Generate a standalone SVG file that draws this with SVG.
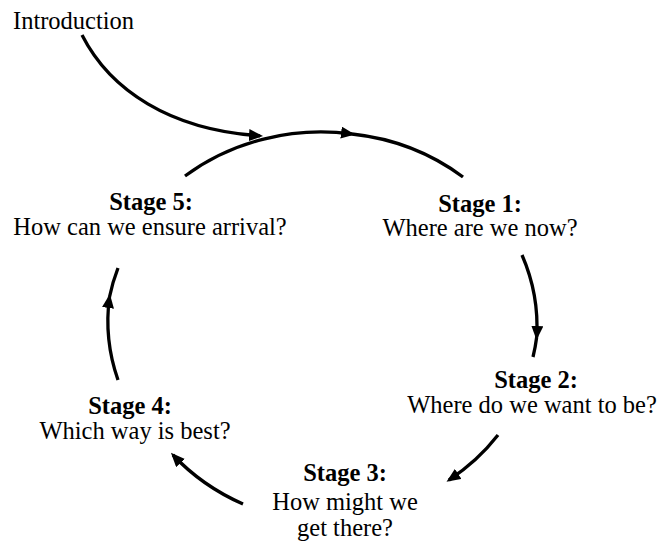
<svg xmlns="http://www.w3.org/2000/svg" width="665" height="543" viewBox="0 0 665 543">
<style>
text{font-family:"Liberation Serif","Times New Roman",serif;font-size:24.5px;fill:#000;text-anchor:middle}
.b{font-weight:bold}
.c{fill:none;stroke:#000;stroke-width:3.3;stroke-linecap:butt}
</style>
<defs>
<marker id="ah" viewBox="0 0 14 12" refX="11" refY="6" markerWidth="14" markerHeight="12" markerUnits="userSpaceOnUse" orient="auto">
<path d="M0,0 L14,6 L0,12 Z" fill="#000"/>
</marker>
</defs>
<rect width="665" height="543" fill="#fff"/>
<g id="intro">
<text x="13" y="29" style="text-anchor:start">Introduction</text>
</g>
<g id="stage1">
<text class="b" x="480" y="211.5">Stage 1:</text>
<text x="480" y="236">Where are we now?</text>
</g>
<g id="stage2">
<text class="b" x="536" y="388">Stage 2:</text>
<text x="532" y="412.5">Where do we want to be?</text>
</g>
<g id="stage3">
<text class="b" x="345" y="480.5">Stage 3:</text>
<text x="345" y="509.5">How might we</text>
<text x="345" y="536">get there?</text>
</g>
<g id="stage4">
<text class="b" x="130" y="414">Stage 4:</text>
<text x="135" y="438.5">Which way is best?</text>
</g>
<g id="stage5">
<text class="b" x="151" y="210">Stage 5:</text>
<text x="150" y="234.5">How can we ensure arrival?</text>
</g>
<g id="connectors">
<path class="c" d="M82,35 C110,90 170,130 260,135.8" marker-end="url(#ah)"/>
<path class="c" d="M185,176 A215,195 0 0 1 352,134" marker-end="url(#ah)"/>
<path class="c" d="M352,134 A215,195 0 0 1 463,177"/>
<path class="c" d="M522,255 A215,195 0 0 1 536.7,337" marker-end="url(#ah)"/>
<path class="c" d="M536.7,337 A215,195 0 0 1 533,357"/>
<path class="c" d="M498,435 A215,195 0 0 1 449,480" marker-end="url(#ah)"/>
<path class="c" d="M243,504 A215,195 0 0 1 173,455" marker-end="url(#ah)"/>
<path class="c" d="M118,380 A215,195 0 0 1 109.5,297" marker-end="url(#ah)"/>
<path class="c" d="M109.5,297 A215,195 0 0 1 118,268"/>
</g>
</svg>
